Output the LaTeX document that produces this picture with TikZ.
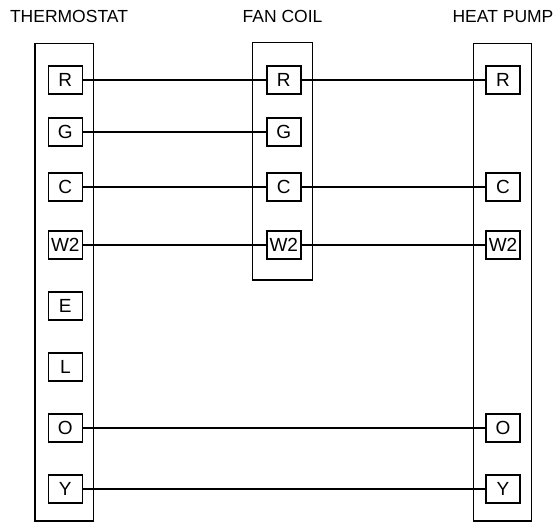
\documentclass[tikz,border=0pt]{standalone}
\usepackage{fontspec}
\setmainfont{Liberation Sans}
\begin{document}
\begin{tikzpicture}[x=1pt,y=-1pt,
  unitbox/.style={draw,line width=1.5pt,inner sep=0pt,minimum width=#1},
  term/.style={draw,line width=1.4pt,inner sep=0pt,minimum width=34pt,minimum height=28pt,font=\fontsize{19}{19}\selectfont},
  title/.style={anchor=base,inner sep=0pt,font=\fontsize{17.5}{18}\selectfont},
  wire/.style={line width=1.5pt}]
\useasboundingbox (0,0) rectangle (558,525);
% titles
\node[title] (tT) at (69,22.7) {THERMOSTAT};
\node[title] (tF) at (282.5,22.7) {FAN COIL};
\node[title] (tH) at (503,22.7) {HEAT PUMP};
% unit boxes
\node[unitbox=58.5pt,minimum height=477.7pt] (thermo) at (64.25,282.15) {};
\node[unitbox=60pt,minimum height=237.3pt] (fan) at (282.3,161.35) {};
\node[unitbox=58.4pt,minimum height=477.7pt] (hp) at (502.5,282.15) {};
% thermostat terminals
\node[term] (tR) at (65.3,80) {R};
\node[term] (tG) at (65.3,132) {G};
\node[term] (tC) at (65.3,187) {C};
\node[term] (tW) at (65.3,245) {W2};
\node[term] (tE) at (65.3,306) {E};
\node[term] (tL) at (65.3,367) {L};
\node[term] (tO) at (65.3,428) {O};
\node[term] (tY) at (65.3,489) {Y};
% fan coil terminals
\node[term] (fR) at (283.8,80) {R};
\node[term] (fG) at (283.8,132) {G};
\node[term] (fC) at (283.8,187) {C};
\node[term] (fW) at (283.8,245) {W2};
% heat pump terminals
\node[term] (hR) at (503,80) {R};
\node[term] (hC) at (503,187) {C};
\node[term] (hW) at (503,245) {W2};
\node[term] (hO) at (503,428) {O};
\node[term] (hY) at (503,489) {Y};
% wires
\draw[wire] (tR) -- (fR);
\draw[wire] (fR) -- (hR);
\draw[wire] (tG) -- (fG);
\draw[wire] (tC) -- (fC);
\draw[wire] (fC) -- (hC);
\draw[wire] (tW) -- (fW);
\draw[wire] (fW) -- (hW);
\draw[wire] (tO) -- (hO);
\draw[wire] (tY) -- (hY);
\end{tikzpicture}
\end{document}
